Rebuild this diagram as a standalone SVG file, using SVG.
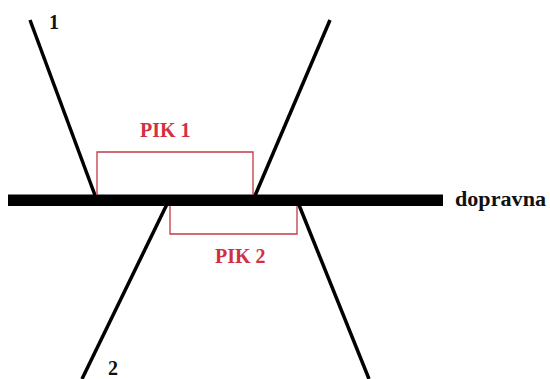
<svg xmlns="http://www.w3.org/2000/svg" width="550" height="379" viewBox="0 0 550 379">
<style>
.ln{stroke:#000;stroke-width:3.5;fill:none;stroke-linecap:butt}
.box{stroke:#c23a44;stroke-width:1.3;fill:none}
.lbl{font-family:'Liberation Serif','DejaVu Serif',serif;font-weight:bold;font-size:20px;fill:#111}
.pik{font-family:'Liberation Serif','DejaVu Serif',serif;font-weight:bold;font-size:20px;fill:#d23040}
</style>
<rect width="550" height="379" fill="#fff"/>
<g id="connectors">
<line class="ln" x1="30" y1="20" x2="96" y2="198"/>
<line class="ln" x1="330" y1="20" x2="254" y2="198"/>
<line class="ln" x1="169" y1="200" x2="82" y2="379"/>
<line class="ln" x1="297" y1="200" x2="369" y2="379"/>
</g>
<g id="dopravna">
<rect x="8" y="194.5" width="435" height="11.5" fill="#000"/>
<text class="lbl" x="455" y="206" textLength="91" lengthAdjust="spacingAndGlyphs">dopravna</text>
</g>
<g id="pik1">
<polyline class="box" points="97,195 97,152 253,152 253,195"/>
<text class="pik" x="140" y="137">PIK 1</text>
</g>
<g id="pik2">
<polyline class="box" points="170,206 170,234 297,234 297,206"/>
<text class="pik" x="215" y="263">PIK 2</text>
</g>
<g id="label1"><text class="lbl" x="49" y="29">1</text></g>
<g id="label2"><text class="lbl" x="108" y="375">2</text></g>
</svg>
